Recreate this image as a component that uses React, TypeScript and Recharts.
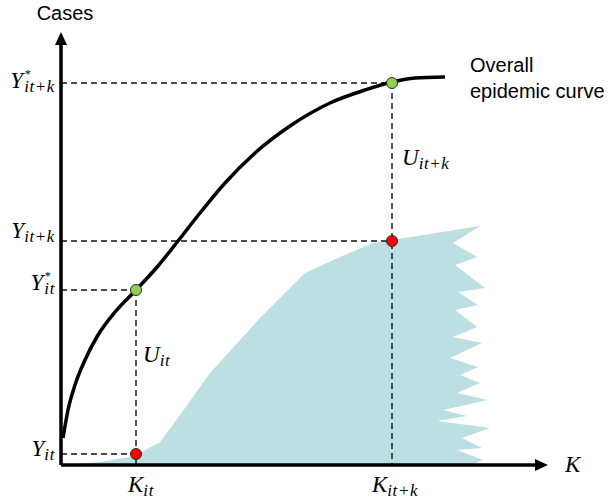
import React from 'react'
import {
  Area,
  ComposedChart,
  Line,
  ReferenceDot,
  ReferenceLine,
  Scatter,
  XAxis,
  YAxis,
} from 'recharts'

// Conceptual sketch: overall epidemic curve vs. the reported (observed) cases
// with its ragged right edge. Units are arbitrary; K runs 0..500, cases 0..435.

// overall epidemic curve
const curveK = [2, 7, 14, 24, 37, 54, 75, 97, 117, 139, 164, 194, 229, 269, 304, 331, 354, 384]
const curveCases = [27, 55, 80, 105, 130, 153, 175, 199, 224, 252, 282, 312, 339, 362, 375, 383, 387, 388]

// observed cases: rising edge, then the ragged right side walking down
const observedK = [
  0, 39, 74, 99, 119, 149, 199, 244, 279, 312, 331, 419,
  392, 416, 394, 424, 397, 417, 394, 416, 392, 421, 389, 417,
  399, 419, 396, 427, 382, 406, 376, 429, 401, 421, 396, 422, 409,
]
const observedCases = [
  0, 3, 9, 23, 50, 92, 147, 192, 208, 222, 225, 239,
  222, 208, 200, 177, 173, 160, 155, 138, 128, 122, 107, 98,
  90, 82, 72, 65, 55, 49, 44, 37, 27, 17, 15, 5, 0,
]

// the two time points it and it+k
const markK = [75, 331]
const trueCases = [175, 382] // Y*
const reportedCases = [11, 224] // Y

const K_MAX = 487
const CASES_MAX = 433

const curveData = curveK.map((x, i) => ({ x, y: curveCases[i] }))
const observedData = observedK.map((x, i) => ({ x, y: observedCases[i] }))
const greenDots = markK.map((x, i) => ({ x, y: trueCases[i] }))
const redDots = markK.map((x, i) => ({ x, y: reportedCases[i] }))

const ink = '#000000'
const teal = '#bcdfe3'
const mathFont = '"Liberation Serif", "DejaVu Serif", serif'
const sansFont = '"Liberation Sans", Arial, sans-serif'

function ArrowLine(p: any) {
  const { x1, y1, x2, y2 } = p
  const dx = x2 - x1
  const dy = y2 - y1
  const len = Math.sqrt(dx * dx + dy * dy) || 1
  const ux = dx / len
  const uy = dy / len
  const head = 13
  const half = 6
  const bx = x2 - ux * head
  const by = y2 - uy * head
  return (
    <g>
      <line x1={x1} y1={y1} x2={bx + ux} y2={by + uy} stroke={ink} strokeWidth={3.5} />
      <polygon
        points={`${x2},${y2} ${bx - uy * half},${by + ux * half} ${bx + uy * half},${by - ux * half}`}
        fill={ink}
      />
    </g>
  )
}

function MathLabel({ x, y, main, sub, star, anchor = 'start' }: any) {
  return (
    <text x={x} y={y} textAnchor={anchor} fontFamily={mathFont} fontStyle="italic" fill={ink}>
      <tspan fontSize={23}>{main}</tspan>
      {star ? (
        <>
          <tspan fontSize={12} dy={-10} dx={1}>*</tspan>
          <tspan fontSize={17} letterSpacing={0.6} dy={14} dx={-6}>{sub}</tspan>
        </>
      ) : (
        <tspan fontSize={17} letterSpacing={0.6} dy={4}>{sub}</tspan>
      )}
    </text>
  )
}

const yLabels = [
  { value: trueCases[1], sub: 'it+k', star: true, dy: 5 },
  { value: reportedCases[1], sub: 'it+k', star: false, dy: -3 },
  { value: trueCases[0], sub: 'it', star: true, dy: 0 },
  { value: reportedCases[0], sub: 'it', star: false, dy: 2 },
]

const kLabels = [
  { value: markK[0], sub: 'it', dx: 5 },
  { value: markK[1], sub: 'it+k', dx: 3 },
]

const dash = { stroke: '#111', strokeWidth: 1.4, strokeDasharray: '6 4' }

export default function App() {
  return (
    <div style={{ position: 'absolute', left: 0, top: 0, width: 611, height: 503, background: '#fff' }}>
      <ComposedChart width={611} height={503} margin={{ top: 30, right: 50, bottom: 38, left: 61 }}>
        <XAxis type="number" dataKey="x" domain={[0, 500]} hide />
        <YAxis type="number" dataKey="y" domain={[0, 435]} hide />

        <Area
          data={observedData}
          dataKey="y"
          type="linear"
          stroke="none"
          fill={teal}
          fillOpacity={1}
          isAnimationActive={false}
        />

        {/* guide lines */}
        {markK.map((k, i) => (
          <ReferenceLine
            key={`h1-${i}`}
            segment={[{ x: 0, y: trueCases[i] }, { x: k, y: trueCases[i] }]}
            {...dash}
          />
        ))}
        {markK.map((k, i) => (
          <ReferenceLine
            key={`h2-${i}`}
            segment={[{ x: 0, y: reportedCases[i] }, { x: k, y: reportedCases[i] }]}
            {...dash}
          />
        ))}
        {markK.map((k, i) => (
          <ReferenceLine
            key={`v-${i}`}
            segment={[{ x: k, y: trueCases[i] }, { x: k, y: 0 }]}
            {...dash}
          />
        ))}

        <Line
          data={curveData}
          dataKey="y"
          type="monotone"
          stroke={ink}
          strokeWidth={3.5}
          dot={false}
          isAnimationActive={false}
        />

        {/* axes with arrowheads */}
        <ReferenceLine segment={[{ x: 0, y: 0 }, { x: K_MAX, y: 0 }]} shape={ArrowLine} ifOverflow="visible" />
        <ReferenceLine segment={[{ x: 0, y: 0 }, { x: 0, y: CASES_MAX }]} shape={ArrowLine} ifOverflow="visible" />

        <Scatter
          data={greenDots}
          fill="#92d050"
          isAnimationActive={false}
          shape={(p: any) => <circle cx={p.cx} cy={p.cy} r={5.5} fill="#92d050" stroke="#2b2b2b" strokeWidth={1} />}
        />
        <Scatter
          data={redDots}
          fill="#ff0000"
          isAnimationActive={false}
          shape={(p: any) => <circle cx={p.cx} cy={p.cy} r={5.5} fill="#ff0000" stroke="#2b2b2b" strokeWidth={1} />}
        />

        {/* Y labels on the left */}
        {yLabels.map((l, i) => (
          <ReferenceDot
            key={`yl-${i}`}
            x={0}
            y={l.value}
            ifOverflow="visible"
            shape={(p: any) => (
              <MathLabel x={p.cx - 6} y={p.cy + l.dy} main="Y" sub={l.sub} star={l.star} anchor="end" />
            )}
          />
        ))}

        {/* K labels under the axis */}
        {kLabels.map((l, i) => (
          <ReferenceDot
            key={`kl-${i}`}
            x={l.value}
            y={0}
            ifOverflow="visible"
            shape={(p: any) => (
              <MathLabel x={p.cx + l.dx} y={p.cy + 27} main="K" sub={l.sub} anchor="middle" />
            )}
          />
        ))}

        {/* gap labels */}
        <ReferenceDot
          x={markK[0]}
          y={103}
          ifOverflow="visible"
          shape={(p: any) => <MathLabel x={p.cx + 7} y={p.cy} main="U" sub="it" />}
        />
        <ReferenceDot
          x={markK[1]}
          y={300}
          ifOverflow="visible"
          shape={(p: any) => <MathLabel x={p.cx + 10} y={p.cy} main="U" sub="it+k" />}
        />

        {/* axis titles */}
        <ReferenceDot
          x={K_MAX}
          y={0}
          ifOverflow="visible"
          shape={(p: any) => (
            <text x={p.cx + 17} y={p.cy + 7} fontFamily={mathFont} fontStyle="italic" fontSize={23} fill={ink}>
              K
            </text>
          )}
        />
        <ReferenceDot
          x={0}
          y={CASES_MAX}
          ifOverflow="visible"
          shape={(p: any) => (
            <text x={p.cx + 4} y={p.cy - 12} textAnchor="middle" fontFamily={sansFont} fontSize={20} fill={ink}>
              Cases
            </text>
          )}
        />
        <ReferenceDot
          x={curveK[curveK.length - 1]}
          y={curveCases[curveCases.length - 1]}
          ifOverflow="visible"
          shape={(p: any) => (
            <text x={p.cx + 25} y={p.cy - 5} fontFamily={sansFont} fontSize={20} fill={ink}>
              <tspan>Overall</tspan>
              <tspan x={p.cx + 25} dy={26}>epidemic curve</tspan>
            </text>
          )}
        />
      </ComposedChart>
    </div>
  )
}
